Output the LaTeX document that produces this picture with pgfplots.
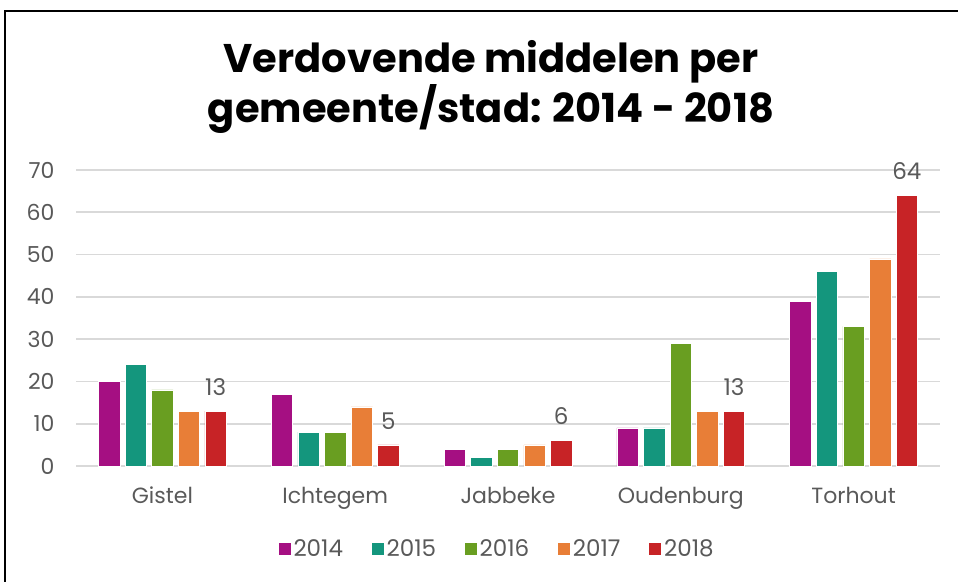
\documentclass[border=0pt]{standalone}
\usepackage{fontspec}
\setmainfont{Poppins}
\usepackage{pgfplots}
\pgfplotsset{compat=1.18}
\definecolor{c14}{RGB}{165,15,130}
\definecolor{c15}{RGB}{20,150,125}
\definecolor{c16}{RGB}{105,158,33}
\definecolor{c17}{RGB}{232,126,55}
\definecolor{c18}{RGB}{199,35,38}
\definecolor{txt}{RGB}{89,89,89}
\definecolor{grd}{RGB}{217,217,217}
\begin{document}
\begin{tikzpicture}
\useasboundingbox (0pt,0pt) rectangle (958pt,581pt);
\draw[line width=1.5pt, black] (5pt,-20pt) -- (5pt,570pt) -- (980pt,570pt);
\node[align=center, font=\fontsize{40}{50}\selectfont\bfseries] at (491pt,494pt) {Verdovende middelen per\\gemeente/stad: 2014 - 2018};
\begin{axis}[
  at={(76pt,115pt)}, anchor=south west,
  scale only axis, width=864pt, height=296pt,
  ybar=5.2pt, bar width=0.124,
  xmin=-0.5, xmax=4.5, ymin=0, ymax=70,
  xtick={0,1,2,3,4},
  xticklabels={Gistel,Ichtegem,Jabbeke,Oudenburg,Torhout},
  ytick={0,10,...,70},
  axis line style={draw=none},
  major tick style={draw=none},
  ymajorgrids, major grid style={grd, line width=1.8pt},
  /pgf/number format/assume math mode=true,
  tick label style={font=\fontsize{22}{26}\selectfont, text=txt},
  yticklabel style={xshift=-18pt},
  xticklabel style={yshift=-13pt},
  legend style={at={(0.487,-0.28)}, anchor=center, draw=none, fill=none,
    legend columns=-1, font=\fontsize{23}{27}\selectfont, text=txt,
    /tikz/every even column/.append style={column sep=26pt},
    /tikz/every odd column/.append style={column sep=0pt}},
  legend image code/.code={\fill[#1] (0pt,-6.5pt) rectangle (13pt,6.5pt);},
  legend cell align=left,
  every axis plot/.append style={draw=white, line width=0.6pt},
]
\addplot[fill=c14] coordinates {(0,20) (1,17) (2,4) (3,9) (4,39)};
\addplot[fill=c15] coordinates {(0,24) (1,8) (2,2) (3,9) (4,46)};
\addplot[fill=c16] coordinates {(0,18) (1,8) (2,4) (3,29) (4,33)};
\addplot[fill=c17] coordinates {(0,13) (1,14) (2,5) (3,13) (4,49)};
\addplot[fill=c18, nodes near coords, nodes near coords style={font=\fontsize{23}{27}\selectfont, text=txt, yshift=12pt}] coordinates {(0,13) (1,5) (2,6) (3,13) (4,64)};
\legend{2014,2015,2016,2017,2018}
\end{axis}
\end{tikzpicture}
\end{document}
